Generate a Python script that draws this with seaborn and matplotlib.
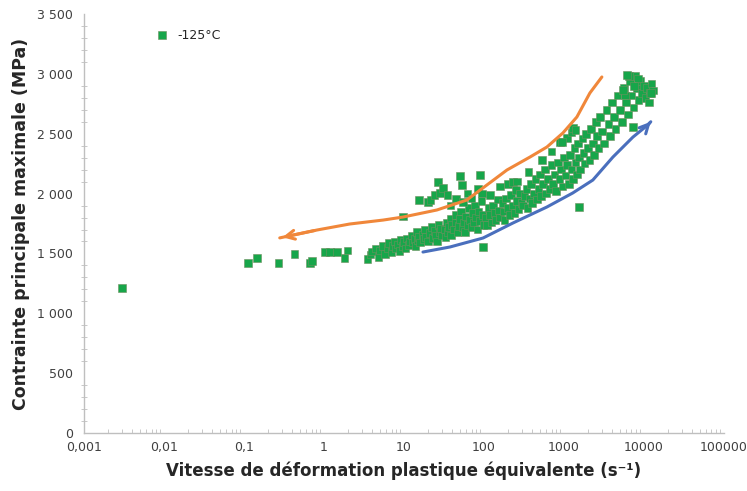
import numpy as np
import pandas as pd
import matplotlib
matplotlib.use("Agg")
import matplotlib.pyplot as plt
import seaborn as sns
from matplotlib.ticker import FixedLocator, LogLocator, MultipleLocator, FuncFormatter

# Vitesse de deformation (s-1) et contrainte (MPa)
rate_isolated = [0.003, 0.112, 0.145, 0.27, 0.43, 0.67, 0.71, 1.03, 1.2, 1.45, 1.98, 1.8]
stress_isolated = [1210, 1420, 1461, 1420, 1495, 1420, 1435, 1511, 1511, 1511, 1525, 1461]

rate_low = [3.5, 3.8, 4.0, 4.4, 4.8, 5.0, 5.5, 5.8, 6.2, 6.5, 7.0, 7.2, 7.6, 8.0, 8.4, 8.8, 9.2, 9.6, 10, 10.5,
            11, 11.5, 12, 12.5, 13, 13.5, 14, 14.5, 15, 15.5, 16, 17, 17.5, 18, 19, 20, 21, 22, 23, 24,
            25, 26, 27, 28, 29, 30]
stress_low = [1453, 1490, 1515, 1540, 1470, 1525, 1560, 1495, 1545, 1585, 1510, 1560, 1600, 1540, 1575, 1520, 1610, 1560, 1595, 1540,
              1625, 1570, 1600, 1650, 1590, 1620, 1560, 1680, 1610, 1640, 1590, 1660, 1620, 1700, 1640, 1600, 1670, 1720, 1630, 1690,
              1650, 1600, 1740, 1680, 1710, 1650]

rate_mid = [32, 33, 34, 35, 36, 38, 39, 40, 42, 44, 45, 47, 48, 50, 52, 54, 56, 58, 60, 62, 65, 67, 70, 72, 75, 78, 80, 83,
            86, 90, 93, 96, 99, 97,
            105, 110, 115, 120, 125, 130, 135, 140, 150, 155, 160, 170, 175, 180, 190, 200, 210, 220, 230, 240, 250, 260,
            270, 285, 295]
stress_mid = [1700, 1640, 1760, 1680, 1720, 1790, 1650, 1740, 1700, 1820, 1760, 1680, 1730, 1790, 1850, 1720, 1760, 1680, 1810, 1740, 1880, 1780, 1720, 1840, 1760, 1900, 1800, 1700,
              1850, 1770, 1940, 1820, 1740, 1553,
              1800, 1740, 1880, 1820, 1760, 1900, 1840, 1780, 1950, 1860, 1800, 1920, 1850, 1780, 1960, 1880, 1820, 1990, 1900, 1840, 2030, 1940,
              1870, 2000, 1920]

rate_scatter = [9.8, 15.5, 20, 21.5, 24, 26.6, 28, 31, 35, 50, 53, 89, 38, 45, 55, 62, 70, 85, 95,
                120, 160, 200, 230, 260, 360, 531, 700, 891, 1100, 1250, 1290, 1400, 950, 1550]
stress_scatter = [1810, 1946, 1929, 1946, 1988, 2096, 2004, 2046, 1988, 2146, 2072, 2155, 1900, 1960, 1930, 2000, 1960, 2040, 2000,
                  1990, 2060, 2080, 2096, 2100, 2180, 2280, 2350, 2430, 2464, 2510, 2547, 2530, 2430, 1887]

rate_high = [310, 320, 340, 350, 370, 390, 400, 420, 440, 460, 480, 500, 520, 550, 580, 600, 630, 660, 700, 730, 760, 800,
             840, 880, 920, 960, 1000,
             1050, 1100, 1150, 1200, 1250, 1300, 1350, 1400, 1450, 1500, 1550, 1600, 1700, 1750, 1800, 1900, 2000, 2100,
             2200, 2300, 2400, 2500, 2600, 2700, 2850, 3000,
             3200, 3400, 3600, 3800, 4000, 4200, 4400, 4700, 5000, 5300, 5600, 6000, 6300, 6700, 7000, 7400, 7800, 8200,
             8600, 9000, 9500, 10000, 10500, 11000, 12000, 13000, 6500, 7500, 8500, 5800, 11500, 12500, 6100, 12300, 5500, 7300]
stress_high = [1900, 1980, 2040, 1880, 1960, 2080, 1920, 2000, 2120, 1950, 2040, 2160, 1980, 2080, 2200, 2000, 2120, 2040, 2240, 2080, 2160, 2020,
               2260, 2120, 2200, 2060, 2300,
               2150, 2240, 2080, 2320, 2200, 2120, 2380, 2260, 2160, 2420, 2300, 2200, 2460, 2340, 2250, 2500, 2380, 2280,
               2540, 2420, 2320, 2600, 2480, 2380, 2640, 2520,
               2420, 2700, 2580, 2480, 2760, 2640, 2540, 2820, 2700, 2600, 2880, 2760, 2660, 2940, 2820, 2720, 2980, 2880,
               2780, 2940, 2840, 2900, 2800, 2880, 2840, 2860, 2980, 2900, 2960, 2820, 2760, 2920, 2990, 2840, 2865, 2555]

# fleches (trace a la main sur la figure d'origine)
orange_x = [2985, 2113, 1454, 971, 613, 376, 194, 109, 61, 25.8, 9.7, 5.5, 2.1, 0.82, 0.28]
orange_y = [2974, 2840, 2640, 2506, 2389, 2305, 2197, 2072, 1946, 1863, 1804, 1779, 1746, 1696, 1630]
blue_x = [17.3, 37.6, 97.5, 230, 613, 1290, 2300, 4100, 7300, 11200, 12200]
blue_y = [1512, 1554, 1629, 1754, 1888, 2005, 2113, 2305, 2472, 2573, 2600]

x_ticks = [0.001, 0.01, 0.1, 1, 10, 100, 1000, 10000, 100000]
x_ticklabels = ["0,001", "0,01", "0,1", "1", "10", "100", "1000", "10000", "100000"]

df = pd.DataFrame({
    "rate": rate_isolated + rate_low + rate_mid + rate_scatter + rate_high,
    "stress": stress_isolated + stress_low + stress_mid + stress_scatter + stress_high,
})
df["serie"] = "-125°C"

sns.set_style("white")
plt.rcParams["font.family"] = ["DejaVu Sans"]

fig, ax = plt.subplots(figsize=(7.47, 4.91), dpi=100)
plt.subplots_adjust(left=0.1125, right=0.969, bottom=0.118, top=0.9715)

green = "#17a64a"
sns.scatterplot(data=df, x="rate", y="stress", hue="serie", palette=[green], marker="s", s=30,
                edgecolor="#6f8f5f", linewidth=0.4, ax=ax, zorder=3)

ax.plot(orange_x, orange_y, color="#f0873a", lw=2.2, zorder=4, solid_capstyle="round")
ax.annotate("", xy=(orange_x[-1], orange_y[-1]), xytext=(orange_x[-2], orange_y[-2]),
            arrowprops=dict(arrowstyle="->", color="#f0873a", lw=2.2, mutation_scale=16), zorder=4)
ax.plot(blue_x, blue_y, color="#4a6fbd", lw=2.2, zorder=4, solid_capstyle="round")
ax.annotate("", xy=(blue_x[-1], blue_y[-1]), xytext=(blue_x[-2], blue_y[-2]),
            arrowprops=dict(arrowstyle="->", color="#4a6fbd", lw=2.2, mutation_scale=16), zorder=4)

ax.set_xscale("log")
ax.set_xlim(0.001, 100000)
ax.set_ylim(0, 3500)
ax.xaxis.set_major_locator(FixedLocator(x_ticks))
ax.set_xticklabels(x_ticklabels)
ax.xaxis.set_minor_locator(LogLocator(base=10, subs=np.arange(2, 10)))
ax.yaxis.set_major_locator(MultipleLocator(500))
ax.yaxis.set_minor_locator(MultipleLocator(100))
ax.yaxis.set_major_formatter(FuncFormatter(lambda v, p: f"{int(v):,}".replace(",", " ")))

for side in ["top", "right"]:
    ax.spines[side].set_visible(False)
for side in ["left", "bottom"]:
    ax.spines[side].set_color("#bfbfbf")
    ax.spines[side].set_linewidth(1.0)

ax.tick_params(axis="y", which="major", direction="out", length=5, color="#bfbfbf", labelsize=9, labelcolor="#404040", pad=3)
ax.tick_params(axis="y", which="minor", direction="inout", length=4, color="#bfbfbf", left=True)
ax.tick_params(axis="x", which="major", direction="in", length=5, color="#bfbfbf", labelsize=9, labelcolor="#404040", pad=6)
ax.tick_params(axis="x", which="minor", direction="in", length=3, color="#bfbfbf", bottom=True)

ax.set_xlabel("Vitesse de déformation plastique équivalente (s⁻¹)", fontsize=12, fontweight="bold", labelpad=5)
ax.set_ylabel("Contrainte principale maximale (MPa)", fontsize=12.5, fontweight="bold", labelpad=5)

ax.legend(loc="upper left", bbox_to_anchor=(0.095, 0.975), frameon=False, fontsize=9,
          handletextpad=0.2, markerscale=1.1, borderaxespad=0)

fig.savefig("out.png", dpi=100)
